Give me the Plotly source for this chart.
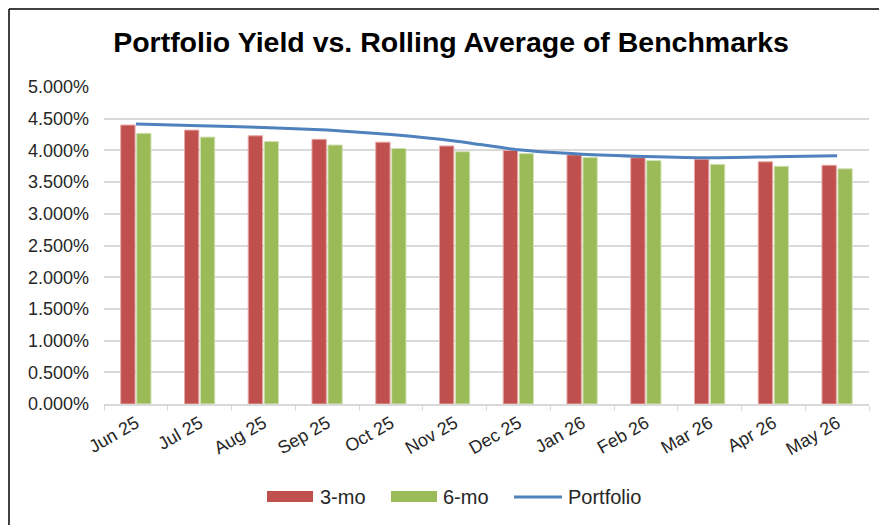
import plotly.graph_objects as go

months = ["Jun 25", "Jul 25", "Aug 25", "Sep 25", "Oct 25", "Nov 25",
          "Dec 25", "Jan 26", "Feb 26", "Mar 26", "Apr 26", "May 26"]
three_mo = [4.40, 4.32, 4.23, 4.175, 4.13, 4.07, 4.00, 3.93, 3.885, 3.86, 3.82, 3.765]
six_mo = [4.27, 4.21, 4.14, 4.085, 4.03, 3.98, 3.95, 3.89, 3.84, 3.78, 3.75, 3.71]
portfolio = [4.415, 4.39, 4.36, 4.32, 4.25, 4.15, 4.01, 3.94, 3.905, 3.885, 3.90, 3.915]
y_ticks = [0, 0.5, 1.0, 1.5, 2.0, 2.5, 3.0, 3.5, 4.0, 4.5, 5.0]

RED = "#C0504D"
GREEN = "#9BBB59"
BLUE = "#4F81BD"
FONT = "Liberation Sans, Arial, sans-serif"
TXT = "#262626"

# page has an 8px body margin; the figure is sized to compensate
W, H = 879, 517
ML, MR, MT, MB = 96, 18, 79, 121
PL, PR, PT, PB = 8 + ML, 8 + W - MR, 8 + MT, 8 + H - MB  # plot area in window px


def px(x):
    return (x - PL) / (PR - PL)


def py(y):
    return (PB - y) / (PB - PT)


traces = [
    go.Bar(x=months, y=three_mo, name="3-mo",
           marker=dict(color=RED, line=dict(color="#E6A9A7", width=1))),
    go.Bar(x=months, y=six_mo, name="6-mo",
           marker=dict(color=GREEN, line=dict(color="#D3E2B6", width=1))),
    go.Scatter(x=months, y=portfolio, name="Portfolio", mode="lines",
               line=dict(color=BLUE, width=3, shape="spline", smoothing=0.6)),
]
fig = go.Figure(traces)

fig.update_layout(
    width=W, height=H,
    margin=dict(l=ML, r=MR, t=MT, b=MB),
    paper_bgcolor="white", plot_bgcolor="white",
    barmode="group", bargap=0.5, bargroupgap=0.1,
    font=dict(family=FONT, size=18, color=TXT),
    title=dict(text="<b>Portfolio Yield vs. Rolling Average of Benchmarks</b>",
               x=(451 - 8) / W, xanchor="center", y=1 - (42 - 8) / H, yanchor="middle",
               xref="container", yref="container",
               font=dict(family=FONT, size=28.5, color="black")),
    showlegend=False,
)
fig.update_xaxes(type="category", showgrid=False, showline=True, linecolor="#D9D9D9",
                 linewidth=1.5, ticks="outside", tickson="boundaries", ticklen=5,
                 tickcolor="#D9D9D9", tickangle=-30,
                 tickfont=dict(family=FONT, size=18, color=TXT))
fig.update_yaxes(range=[0, 5], tickvals=y_ticks, ticktext=[f"{v:.3f}%" for v in y_ticks],
                 showgrid=True, gridcolor="#D9D9D9", gridwidth=1.5, zeroline=False,
                 showline=False, ticks="", ticklabelstandoff=14,
                 tickfont=dict(family=FONT, size=18, color=TXT))

# chart frame (left and top edges only are visible in the reference crop)
fig.add_shape(type="line", xref="paper", yref="paper",
              x0=px(9), x1=px(9), y0=py(9), y1=py(560),
              line=dict(color="black", width=1.5))
fig.add_shape(type="line", xref="paper", yref="paper",
              x0=px(9), x1=px(1000), y0=py(9), y1=py(9),
              line=dict(color="black", width=1.5))

# manual legend (Excel-style wide swatches)
LEG_Y = 497
legend_items = [(traces[0], 267, 313, 318), (traces[1], 391, 437, 441),
                (traces[2], 514, 562, 566)]
for tr, x0, x1, xt in legend_items:
    if tr.type == "bar":
        fig.add_shape(type="rect", xref="paper", yref="paper",
                      x0=px(x0), x1=px(x1), y0=py(LEG_Y + 5), y1=py(LEG_Y - 6),
                      line=dict(width=0), fillcolor=tr.marker.color)
    else:
        fig.add_shape(type="line", xref="paper", yref="paper",
                      x0=px(x0), x1=px(x1), y0=py(LEG_Y), y1=py(LEG_Y),
                      line=dict(color=tr.line.color, width=3))
    fig.add_annotation(xref="paper", yref="paper", x=px(xt), y=py(LEG_Y),
                       xanchor="left", yanchor="middle", showarrow=False,
                       text=tr.name, font=dict(family=FONT, size=20, color=TXT))

fig.write_html("out.html")
